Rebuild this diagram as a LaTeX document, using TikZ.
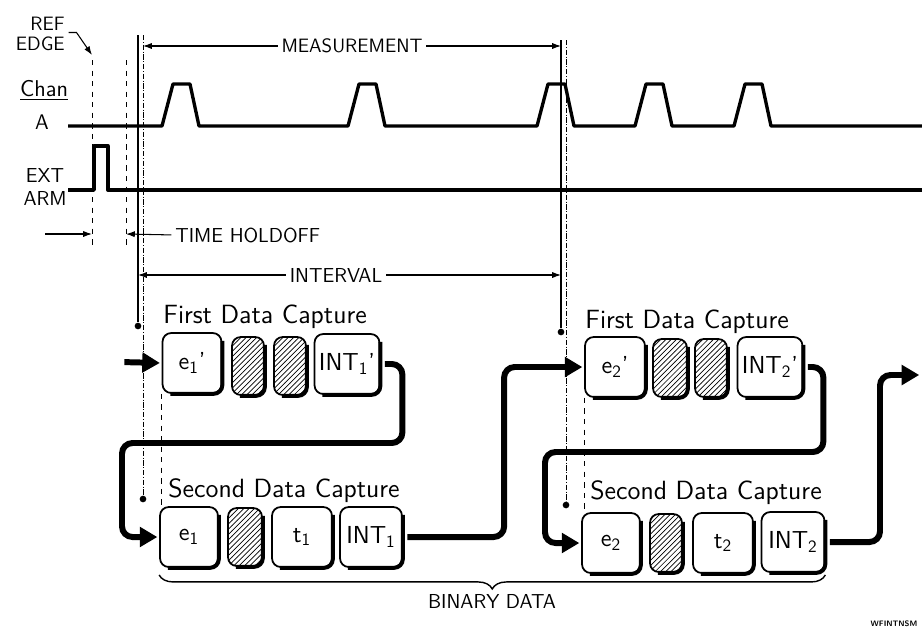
\documentclass[tikz,border=0pt]{standalone}
\usepackage{tikz}
\usetikzlibrary{arrows.meta,positioning,calc,patterns,decorations.pathreplacing}

\begin{document}
\begin{tikzpicture}[x=0.2mm,y=-0.2mm,
    wave/.style={line width=1.9pt, line join=round},
    dim/.style={line width=0.6pt, -{Latex[length=5pt,width=3.5pt]}},
    flow/.style={line width=3.4pt, rounded corners=6pt, -{Triangle[length=10pt,width=11pt]}, shorten <=2.5pt, shorten >=1pt},
    keybox/.style={draw, line width=1pt, rounded corners=5pt, minimum width=1.2cm, minimum height=1.2cm, inner sep=0pt, font=\fontsize{14}{15}\selectfont\sffamily},
    hatchbox/.style={keybox, minimum width=0.64cm, minimum height=1.16cm, pattern=north east lines},
    lbl/.style={inner sep=0pt, font=\fontsize{11}{11.5}\selectfont\sffamily},
    capt/.style={inner sep=0pt, anchor=base west, font=\fontsize{15}{16}\selectfont\sffamily},
    dot/.style={circle, fill, inner sep=0pt, minimum size=3.8pt}]
      \useasboundingbox (0,0) rectangle (922,631);

      % Signals
      \node[lbl, align=right, anchor=north east] (refedge) at (65,17) {REF\\EDGE};
      \node[lbl, font=\fontsize{13}{14}\selectfont\sffamily] (chan) at (44,90) {\underline{Chan}};
      \node[lbl, font=\fontsize{12}{13}\selectfont\sffamily] (chanA) at (42,122) {A};
      \node[lbl, align=center, font=\fontsize{11.5}{13}\selectfont\sffamily] (extarm) at (45,187) {EXT\\ARM};

      \draw[wave] (68,126) foreach \p in {162,348,537,635,734} {-- (\p,126) -- ++(11,-42) -- ++(17,0) -- ++(9,42)} -- (922,126);
      \draw[wave] (68,190) -- (94,190) -- (94,146) -- (108,146) -- (108,190) -- (922,190);

      \coordinate (refpt) at (92,55);
      \draw[dim] ([xshift=2pt,yshift=1pt]refedge.east) -- ++(8,0) -- (refpt);
      \draw[dashed, line width=0.5pt] (92,60) -- (92,247);
      \draw[dashed, line width=0.5pt] (126,60) -- (126,247);

      % Time holdoff, measurement, interval
      \node[lbl, anchor=west, font=\fontsize{11.5}{13}\selectfont\sffamily] (holdoff) at (175,235) {TIME HOLDOFF};
      \coordinate (hoA) at (45,234);
      \coordinate (hoL) at (92,234);
      \coordinate (hoR) at (126,234);
      \draw[dim] (hoA) -- (hoL);
      \draw[dim, shorten <=2pt] (holdoff.west) -- (hoR);

      \node[lbl] (meas) at (352,46) {MEASUREMENT};
      \coordinate (measL) at (143,46);
      \coordinate (measR) at (561,46);
      \draw[dim, shorten <=2pt] (meas.west) -- (measL);
      \draw[dim, shorten <=2pt] (meas.east) -- (measR);

      \node[lbl, font=\fontsize{11.5}{13}\selectfont\sffamily] (intv) at (336,275) {INTERVAL};
      \coordinate (intvL) at (138,275);
      \coordinate (intvR) at (561,275);
      \draw[dim, shorten <=2pt] (intv.west) -- (intvL);
      \draw[dim, shorten <=2pt] (intv.east) -- (intvR);

      % Capture trigger lines
      \node[dot] (d1) at (138,326) {};
      \node[dot] (d2) at (143,499) {};
      \node[dot] (d3) at (561,332) {};
      \node[dot] (d4) at (566,505) {};
      \coordinate (d1top) at (138,35);
      \coordinate (d2top) at (143,35);
      \coordinate (d3top) at (561,40);
      \coordinate (d4top) at (566,40);
      \draw[line width=0.6pt] (d1top) -- (d1);
      \draw[line width=0.5pt, densely dash dot] (d2top) -- (d2);
      \draw[line width=0.6pt] (d3top) -- (d3);
      \draw[line width=0.5pt, densely dash dot] (d4top) -- (d4);

      % First data capture 1
      \node[capt] (cap1) at (163,323) {First Data Capture};
      \node[keybox, minimum width=1.18cm] (e1p) at (192,363) {e\textsubscript{1}'};
      \node[hatchbox] (hA1) at (248,366) {};
      \node[hatchbox] (hA2) at (290,366) {};
      \node[keybox, minimum width=1.3cm] (int1p) at (347,364) {INT\textsubscript{1}'};

      % Second data capture 1
      \node[capt] (cap2) at (168,497) {Second Data Capture};
      \node[keybox, minimum width=1.16cm] (e1) at (189,537) {e\textsubscript{1}};
      \node[hatchbox, minimum width=0.68cm] (hB1) at (245,537) {};
      \node[keybox] (t1) at (302,537) {t\textsubscript{1}};
      \node[keybox, minimum width=1.24cm] (int1) at (371,537) {INT\textsubscript{1}};

      % First data capture 2
      \node[capt] (cap3) at (585,328) {First Data Capture};
      \node[keybox] (e2p) at (615,367) {e\textsubscript{2}'};
      \node[hatchbox, minimum width=0.68cm] (hC1) at (670,368) {};
      \node[hatchbox] (hC2) at (711,368) {};
      \node[keybox, minimum width=1.3cm] (int2p) at (770,367) {INT\textsubscript{2}'};

      % Second data capture 2
      \node[capt] (cap4) at (590,499) {Second Data Capture};
      \node[keybox, minimum width=1.16cm] (e2) at (611,543) {e\textsubscript{2}};
      \node[hatchbox] (hD1) at (666,543) {};
      \node[keybox] (t2) at (723,543) {t\textsubscript{2}};
      \node[keybox, minimum width=1.26cm] (int2) at (793,542) {INT\textsubscript{2}};

      \foreach \b in {e1p,hA1,hA2,int1p,e1,hB1,t1,int1,e2p,hC1,hC2,int2p,e2,hD1,t2,int2}
        \draw[line width=2.2pt, rounded corners=5pt] ([yshift=-5pt]\b.north east) |- ([xshift=5pt]\b.south west);

      \draw[dashed, line width=0.5pt] (e1p.south west) -- (e1p.south west |- e1.north);
      \draw[dashed, line width=0.5pt] (e2p.south west) -- (e2p.south west |- e2.north);

      % Data flow
      \coordinate (in1) at (120,362);
      \coordinate (out) at (921,375);
      \draw[flow] (in1) -- (e1p.west);
      \draw[flow] (int1p.east) -- ++(22,0) |- (122,443) |- (e1.west);
      \draw[flow] (int1.east) -| ($(e2p.west)+(-80,0)$) -- (e2p.west);
      \draw[flow] (int2p.east) -- ++(20,0) |- (545,452) |- (e2.west);
      \draw[flow] (int2.east) -| (880,375) -- (out);

      % Binary data
      \draw[line width=0.8pt, decorate, decoration={brace, mirror, amplitude=8pt}] ([yshift=-4pt]e1.south west) -- ([yshift=-4pt]e1.south west -| int2.east);
      \node[lbl, font=\fontsize{11.5}{13}\selectfont\sffamily] (bin) at (492,601) {BINARY DATA};
      \node[inner sep=0pt, font=\fontsize{4.5}{5}\selectfont\sffamily\bfseries] (figid) at (894,624) {WFINTNSM};
    \end{tikzpicture}
\end{document}
